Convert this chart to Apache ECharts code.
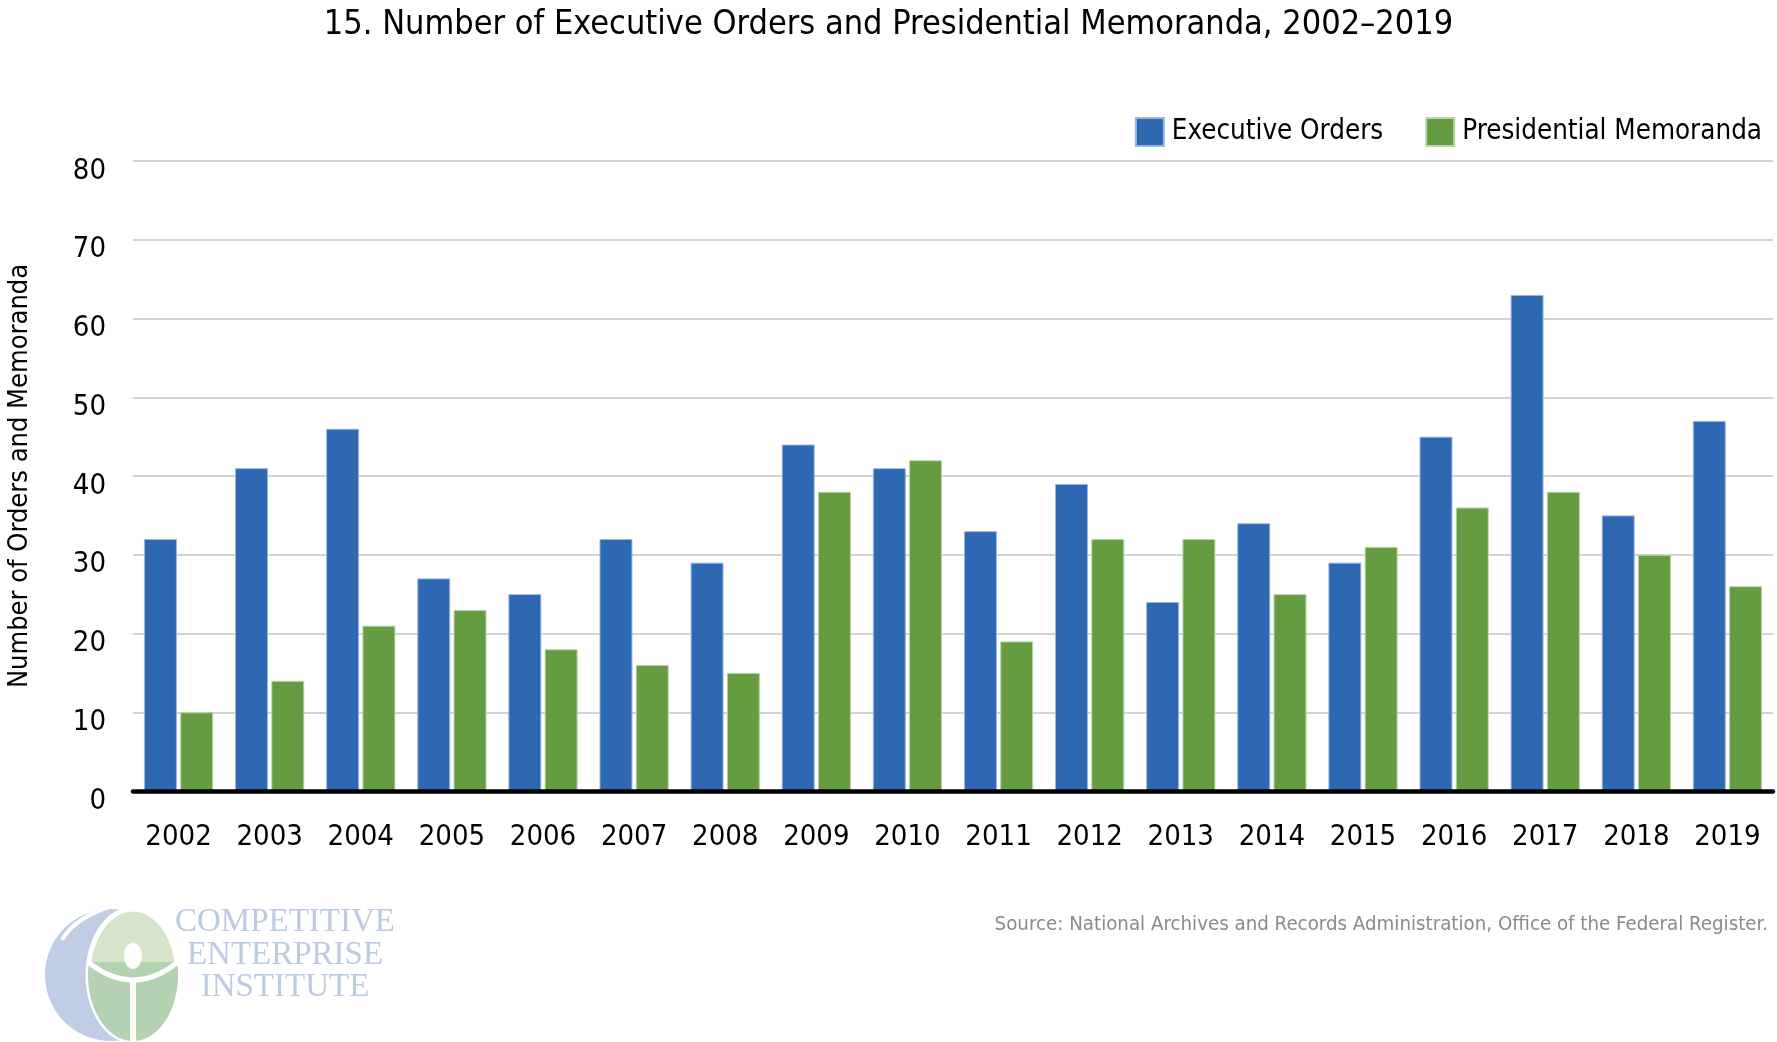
<!DOCTYPE html>
<html>
<head>
<meta charset="utf-8">
<script src="https://cdn.jsdelivr.net/npm/echarts@6/dist/echarts.min.js"></script>
<style>
html,body{margin:0;padding:0;background:#fff;}
#chart{width:1777px;height:1042px;}
</style>
</head>
<body>
<div id="chart"></div>
<script>
const years = ['2002','2003','2004','2005','2006','2007','2008','2009','2010','2011','2012','2013','2014','2015','2016','2017','2018','2019'];
const executiveOrders = [32,41,46,27,25,32,29,44,41,33,39,24,34,29,45,63,35,47];
const presidentialMemoranda = [10,14,21,23,18,16,15,38,42,19,32,32,25,31,36,38,30,26];
const yTicks = { min: 0, max: 80, interval: 10 };

const FONT = "'Liberation Sans Narrow','Arial Narrow','DejaVu Sans Condensed',sans-serif";
const SERIF = "'Liberation Serif','DejaVu Serif',serif";

// decorative logo helper: points along an ellipse arc
function arcPts(cx, cy, rx, ry, a0, a1, n) {
  const pts = [];
  for (let i = 0; i <= n; i++) {
    const a = a0 + (a1 - a0) * i / n;
    pts.push([cx + rx * Math.cos(a), cy + ry * Math.sin(a)]);
  }
  return pts;
}
const greenOuter = arcPts(133, 975, 45, 66, 0, Math.PI * 2, 80);
const greenLower = arcPts(133, 975, 45, 66, -0.2, Math.PI + 0.2, 60);
const headPts = arcPts(133, 956, 9, 13, 0, Math.PI * 2, 40);

const chart = echarts.init(document.getElementById('chart'));
chart.setOption({
  backgroundColor: '#ffffff',
  animation: false,
  textStyle: { fontFamily: FONT },
  title: {
    text: '15. Number of Executive Orders and Presidential Memoranda, 2002\u20132019',
    left: 'center',
    top: 3,
    textStyle: { fontFamily: FONT, fontSize: 34, fontWeight: 'normal', color: '#000' }
  },
  legend: {
    right: 10,
    top: 112,
    itemWidth: 28,
    itemHeight: 28,
    itemGap: 42,
    icon: 'rect',
    textStyle: { fontFamily: FONT, fontSize: 27.5, color: '#000', padding: [0, 0, 0, 3] },
    data: ['Executive Orders', 'Presidential Memoranda']
  },
  grid: { left: 133, right: 4, top: 161, bottom: 251, containLabel: false, outerBoundsMode: 'none' },
  xAxis: {
    type: 'category',
    data: years,
    axisLine: { show: true, lineStyle: { color: '#000', width: 4.5 } },
    axisTick: { show: false },
    axisLabel: { fontFamily: FONT, fontSize: 29, color: '#000', margin: 32 },
    z: 10
  },
  yAxis: {
    type: 'value',
    min: yTicks.min,
    max: yTicks.max,
    interval: yTicks.interval,
    name: 'Number of Orders and Memoranda',
    nameLocation: 'middle',
    nameRotate: 90,
    nameGap: 100,
    nameTextStyle: { fontFamily: FONT, fontSize: 27, color: '#000' },
    axisLine: { show: false },
    axisTick: { show: false },
    axisLabel: { fontFamily: FONT, fontSize: 29, color: '#000', margin: 27, verticalAlign: 'top', lineHeight: 20 },
    splitLine: { show: true, lineStyle: { color: '#d3d3d3', width: 2 } }
  },
  series: [
    {
      name: 'Executive Orders',
      type: 'bar',
      data: executiveOrders,
      barGap: '10%',
      barCategoryGap: '24%',
      itemStyle: { color: '#2E67B2', borderColor: '#9bb6df', borderWidth: 1 }
    },
    {
      name: 'Presidential Memoranda',
      type: 'bar',
      data: presidentialMemoranda,
      itemStyle: { color: '#659C41', borderColor: '#b9d4a6', borderWidth: 1 }
    }
  ],
  graphic: [
    {
      type: 'text',
      right: 9,
      top: 915,
      style: { text: 'Source: National Archives and Records Administration, Office of the Federal Register.', fontFamily: FONT, fontSize: 20.3, fill: '#8a8a8a' }
    },
    { type: 'circle', shape: { cx: 111, cy: 975, r: 66 }, style: { fill: '#c1cde4' } },
    { type: 'bezierCurve', shape: { x1: 62, y1: 940, cpx1: 74, cpy1: 918, x2: 112, y2: 906 }, style: { fill: null, stroke: '#fff', lineWidth: 4 } },
    { type: 'polygon', shape: { points: greenOuter }, style: { fill: '#d6e4c9', stroke: '#fff', lineWidth: 5 } },
    { type: 'polygon', shape: { points: greenLower }, style: { fill: '#b4d1b1' } },
    { type: 'bezierCurve', shape: { x1: 88, y1: 962, cpx1: 133, cpy1: 998, x2: 178, y2: 962 }, style: { fill: null, stroke: '#fff', lineWidth: 5 } },
    { type: 'polygon', shape: { points: headPts }, style: { fill: '#fff' } },
    { type: 'line', shape: { x1: 133, y1: 980, x2: 133, y2: 1042 }, style: { stroke: '#fff', lineWidth: 6 } },
    {
      type: 'text', x: 285, y: 922,
      style: { text: 'COMPETITIVE', fontFamily: SERIF, fontSize: 33, fill: '#bccae2', align: 'center', verticalAlign: 'middle' }
    },
    {
      type: 'text', x: 285, y: 955,
      style: { text: 'ENTERPRISE', fontFamily: SERIF, fontSize: 33, fill: '#bccae2', align: 'center', verticalAlign: 'middle' }
    },
    {
      type: 'text', x: 285, y: 987,
      style: { text: 'INSTITUTE', fontFamily: SERIF, fontSize: 33, fill: '#bccae2', align: 'center', verticalAlign: 'middle' }
    }
  ]
});
</script>
</body>
</html>
